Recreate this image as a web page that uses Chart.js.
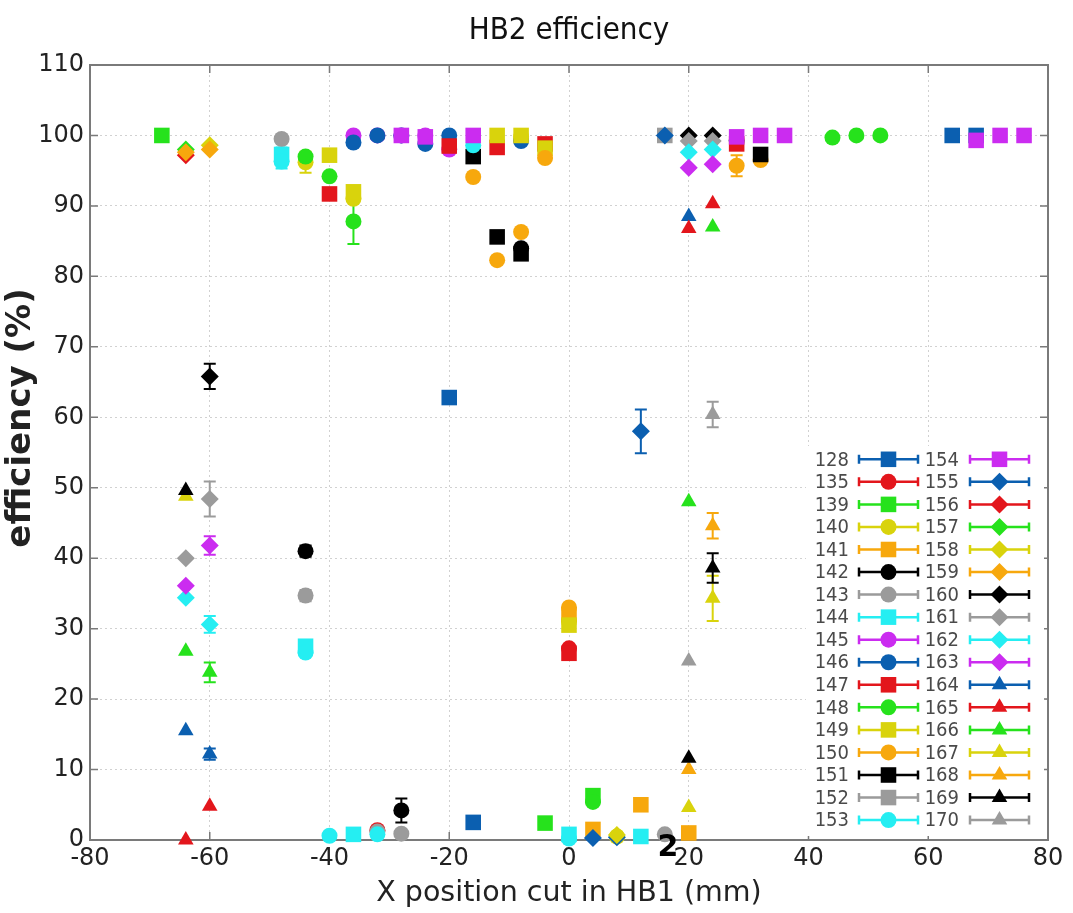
<!DOCTYPE html>
<html><head><meta charset="utf-8">
<script src="https://cdn.jsdelivr.net/npm/chart.js@4.4.1/dist/chart.umd.min.js"></script>
<style>html,body{margin:0;padding:0;background:#fff;}#wrap{width:1073px;height:913px;}</style>
</head><body><div id="wrap"><canvas id="c" width="1073" height="913"></canvas></div>
<script>
// ---- data: [x (mm), efficiency (%), error] ----
const d128 = [[-20,62.8,0],[-16,2.5,0],[64,100,0],[68,100,0]];
const d135 = [[0,27.2,0],[-32,1.4,0]];
const d139 = [[-68,100,0],[-4,2.4,0],[4,6.3,0]];
const d140 = [[-44,96.2,1.5],[-36,91.0,0],[-8,99.8,0],[0,31.0,0],[8,0.5,0]];
const d141 = [[0,32.0,0],[4,1.5,0],[12,5.0,0],[20,1.0,0]];
const d142 = [[-44,41.0,0.8],[-28,4.2,1.7],[-8,84.0,0]];
const d143 = [[-48,99.5,0],[-44,34.7,0.8],[-28,0.9,0],[-32,1.2,0],[16,0.8,0]];
const d144 = [[-48,97.3,1],[-44,27.5,0],[-36,0.8,0],[0,0.8,0],[12,0.5,0]];
const d145 = [[-36,100,0],[-32,100,0],[-28,100,0],[-24,100,0],[-20,98.0,0]];
const d146 = [[-36,99.0,0],[-32,100,0],[-28,100,0],[-24,98.8,0],[-20,100,0],[-8,99.2,0],[28,99.3,0]];
const d147 = [[-40,91.7,0],[-20,98.5,0],[-12,98.3,0],[-4,98.8,0],[0,26.5,0],[28,98.8,0]];
const d148 = [[-44,97.0,0],[-40,94.2,0],[-36,87.8,3.2],[4,5.4,0],[44,99.7,0],[48,100,0],[52,100,0]];
const d149 = [[-40,97.2,0],[-36,92.0,0],[-12,100,0],[-8,100,0],[-4,98.2,0],[0,30.5,0]];
const d150 = [[-16,94.1,0],[-12,82.3,0],[-8,86.3,0],[-4,96.8,0],[0,33.0,0],[28,95.7,1.5],[32,96.5,0]];
const d151 = [[-16,97.0,0],[-12,85.6,0],[-8,83.2,0],[32,97.3,0]];
const d152 = [[16,100,0]];
const d153 = [[-48,96.3,1],[-44,26.6,0],[-40,0.6,0],[-32,0.8,0],[-16,98.6,0],[0,0.2,0]];
const d154 = [[-28,100,0],[-24,99.8,0],[-16,100,0],[28,99.8,0],[32,100,0],[36,100,0],[68,99.3,0],[72,100,0],[76,100,0]];
const d155 = [[12,58.0,3.1],[16,100,0],[4,0.3,0],[8,0.4,0]];
const d156 = [[-64,97.2,0]];
const d157 = [[-64,98.0,0]];
const d158 = [[-60,98.6,0],[8,0.7,0]];
const d159 = [[-64,97.6,0],[-60,98.0,0]];
const d160 = [[-60,65.8,1.8],[20,100,0],[24,100,0]];
const d161 = [[-64,40.0,0],[-60,48.4,2.5],[20,99.2,0],[24,99.2,0]];
const d162 = [[-64,34.4,0],[-60,30.6,1.2],[20,97.6,0],[24,98.0,0]];
const d163 = [[-64,36.1,0],[-60,41.8,1.3],[20,95.4,0],[24,95.9,0]];
const d164 = [[-64,15.5,0],[-60,12.2,0.8],[20,88.5,0]];
const d165 = [[-64,0,0],[-60,4.8,0],[20,86.8,0],[24,90.3,0]];
const d166 = [[-64,26.8,0],[-60,23.8,1.4],[20,48.0,0],[24,87.0,0]];
const d167 = [[-64,48.8,0],[20,4.6,0],[24,34.3,3.2]];
const d168 = [[20,10.0,0],[24,44.6,1.8]];
const d169 = [[-64,49.6,0],[20,11.6,0],[24,38.6,2.1]];
const d170 = [[20,25.4,0],[24,60.4,1.8]];

const runLabels = ['128','135','139','140','141','142','143','144','145','146','147','148','149','150','151','152','153',
                   '154','155','156','157','158','159','160','161','162','163','164','165','166','167','168','169','170'];
const runData = [d128,d135,d139,d140,d141,d142,d143,d144,d145,d146,d147,d148,d149,d150,d151,d152,d153,
                 d154,d155,d156,d157,d158,d159,d160,d161,d162,d163,d164,d165,d166,d167,d168,d169,d170];

const xTicks = [-80,-60,-40,-20,0,20,40,60,80];
const yTicks = [0,10,20,30,40,50,60,70,80,90,100,110];

// ---- styles ----
const C = {blue:'#0b5fb0', red:'#e3161c', green:'#26e21c', yellow:'#d9d30c', orange:'#f7a80d',
           black:'#000000', gray:'#9b9b9b', cyan:'#25eef2', magenta:'#cb2cf0'};
const runColors = [C.blue,C.red,C.green,C.yellow,C.orange,C.black,C.gray,C.cyan,C.magenta,C.blue,C.red,C.green,C.yellow,C.orange,C.black,C.gray,C.cyan,
                   C.magenta,C.blue,C.red,C.green,C.yellow,C.orange,C.black,C.gray,C.cyan,C.magenta,C.blue,C.red,C.green,C.yellow,C.orange,C.black,C.gray];
const runShapes = ['rect','circle','rect','circle','rect','circle','circle','rect','circle','circle','rect','circle','rect','circle','rect','rect','circle',
                   'rect','rectRot','rectRot','rectRot','rectRot','rectRot','rectRot','rectRot','rectRot','rectRot','triangle','triangle','triangle','triangle','triangle','triangle','triangle'];
const shapeRadius = {circle:8, rect:11, rectRot:9, triangle:9};

const FONT = "'DejaVu Sans', sans-serif";
const NARROW = "'DejaVu Sans Condensed', 'Liberation Sans Narrow', 'DejaVu Sans', sans-serif";

const datasets = runLabels.map((lab, i) => ({
  label: lab,
  data: runData[i].map(p => ({x: p[0], y: p[1], e: p[2]})),
  backgroundColor: runColors[i],
  borderColor: runColors[i],
  borderWidth: 0,
  pointStyle: runShapes[i],
  pointRadius: shapeRadius[runShapes[i]],
  pointHoverRadius: shapeRadius[runShapes[i]],
  showLine: false,
  clip: false,
  order: -i
}));

const extras = {
  id: 'extras',
  beforeDatasetsDraw(chart) {
    const ctx = chart.ctx, a = chart.chartArea, xs = chart.scales.x, ys = chart.scales.y;
    ctx.save();
    ctx.strokeStyle = '#7a7a7a'; ctx.lineWidth = 2;
    ctx.strokeRect(a.left, a.top, a.right - a.left, a.bottom - a.top);
    ctx.lineWidth = 1.5;
    xTicks.forEach(v => { const px = xs.getPixelForValue(v);
      ctx.beginPath(); ctx.moveTo(px, a.bottom); ctx.lineTo(px, a.bottom - 8);
      ctx.moveTo(px, a.top); ctx.lineTo(px, a.top + 8); ctx.stroke(); });
    yTicks.forEach(v => { const py = ys.getPixelForValue(v);
      ctx.beginPath(); ctx.moveTo(a.left, py); ctx.lineTo(a.left + 8, py);
      ctx.moveTo(a.right, py); ctx.lineTo(a.right - 8, py); ctx.stroke(); });
    ctx.lineWidth = 2;
    chart.data.datasets.forEach((ds, i) => {
      const meta = chart.getDatasetMeta(i);
      ds.data.forEach((p, j) => {
        if (!p.e) return;
        const el = meta.data[j];
        const y1 = ys.getPixelForValue(p.y + p.e), y2 = ys.getPixelForValue(p.y - p.e);
        ctx.strokeStyle = ds.borderColor;
        ctx.beginPath();
        ctx.moveTo(el.x, y1); ctx.lineTo(el.x, y2);
        ctx.moveTo(el.x - 6, y1); ctx.lineTo(el.x + 6, y1);
        ctx.moveTo(el.x - 6, y2); ctx.lineTo(el.x + 6, y2);
        ctx.stroke();
      });
    });
    ctx.restore();
  },
  afterDraw(chart) {
    const ctx = chart.ctx, a = chart.chartArea;
    ctx.save();
    ctx.fillStyle = '#111'; ctx.font = '31px ' + NARROW;
    ctx.textAlign = 'center'; ctx.textBaseline = 'middle';
    ctx.fillText('HB2 efficiency', (a.left + a.right) / 2, 31);
    // y axis title
    ctx.save();
    ctx.translate(21, 418); ctx.rotate(-Math.PI / 2);
    ctx.font = 'bold 34px ' + FONT; ctx.fillStyle = '#222';
    ctx.fillText('efficiency (%)', 0, 0);
    ctx.restore();
    ctx.font = 'bold 30px ' + FONT; ctx.fillStyle = '#000';
    ctx.fillText('2', 668, 848);
    // legend
    ctx.fillStyle = '#fff';
    ctx.fillRect(806, 446, 238, 390);
    const y0 = 459.3, dy = 22.55;
    ctx.font = '20px ' + NARROW; ctx.textBaseline = 'middle'; ctx.textAlign = 'right';
    chart.data.datasets.forEach((ds, i) => {
      const col = i < 17 ? 0 : 1, row = i < 17 ? i : i - 17;
      const y = y0 + row * dy;
      const tx = col ? 959 : 849, l1 = col ? 970 : 859, l2 = col ? 1029 : 918, mx = (l1 + l2) / 2;
      ctx.fillStyle = '#4a4a4a';
      ctx.fillText(ds.label, tx, y + 1);
      ctx.strokeStyle = ds.borderColor; ctx.lineWidth = 2.5;
      ctx.beginPath(); ctx.moveTo(l1, y); ctx.lineTo(l2, y);
      ctx.moveTo(l1, y - 4.5); ctx.lineTo(l1, y + 4.5);
      ctx.moveTo(l2, y - 4.5); ctx.lineTo(l2, y + 4.5); ctx.stroke();
      ctx.fillStyle = ds.backgroundColor;
      Chart.helpers.drawPoint(ctx, {pointStyle: ds.pointStyle, radius: ds.pointRadius, rotation: 0, borderWidth: 0}, mx, y);
    });
    ctx.restore();
  }
};

new Chart(document.getElementById('c'), {
  type: 'scatter',
  data: {datasets},
  plugins: [extras],
  options: {
    responsive: false, animation: false, devicePixelRatio: 1,
    layout: {padding: {top: 65, right: 25, left: 0, bottom: 0}},
    plugins: {legend: {display: false}, title: {display: false}, tooltip: {enabled: false}},
    scales: {
      x: {
        type: 'linear', min: -80, max: 80,
        afterFit: s => { s.height = 73; },
        afterBuildTicks: s => { s.ticks = xTicks.map(v => ({value: v})); },
        ticks: {font: {family: FONT, size: 24}, color: '#222', padding: 4, maxRotation: 0},
        grid: {color: 'rgba(0,0,0,0.18)', drawTicks: false},
        border: {display: false, dash: [2, 3]},
        title: {display: true, text: 'X position cut in HB1 (mm)', font: {family: FONT, size: 28.5}, color: '#222', padding: {top: 0, bottom: 2}}
      },
      y: {
        type: 'linear', min: 0, max: 110,
        afterFit: s => { s.width = 90; },
        afterBuildTicks: s => { s.ticks = yTicks.map(v => ({value: v})); },
        ticks: {font: {family: FONT, size: 24}, color: '#222', padding: 6},
        grid: {color: 'rgba(0,0,0,0.18)', drawTicks: false},
        border: {display: false, dash: [2, 3]},
        title: {display: false}
      }
    }
  }
});
</script></body></html>
